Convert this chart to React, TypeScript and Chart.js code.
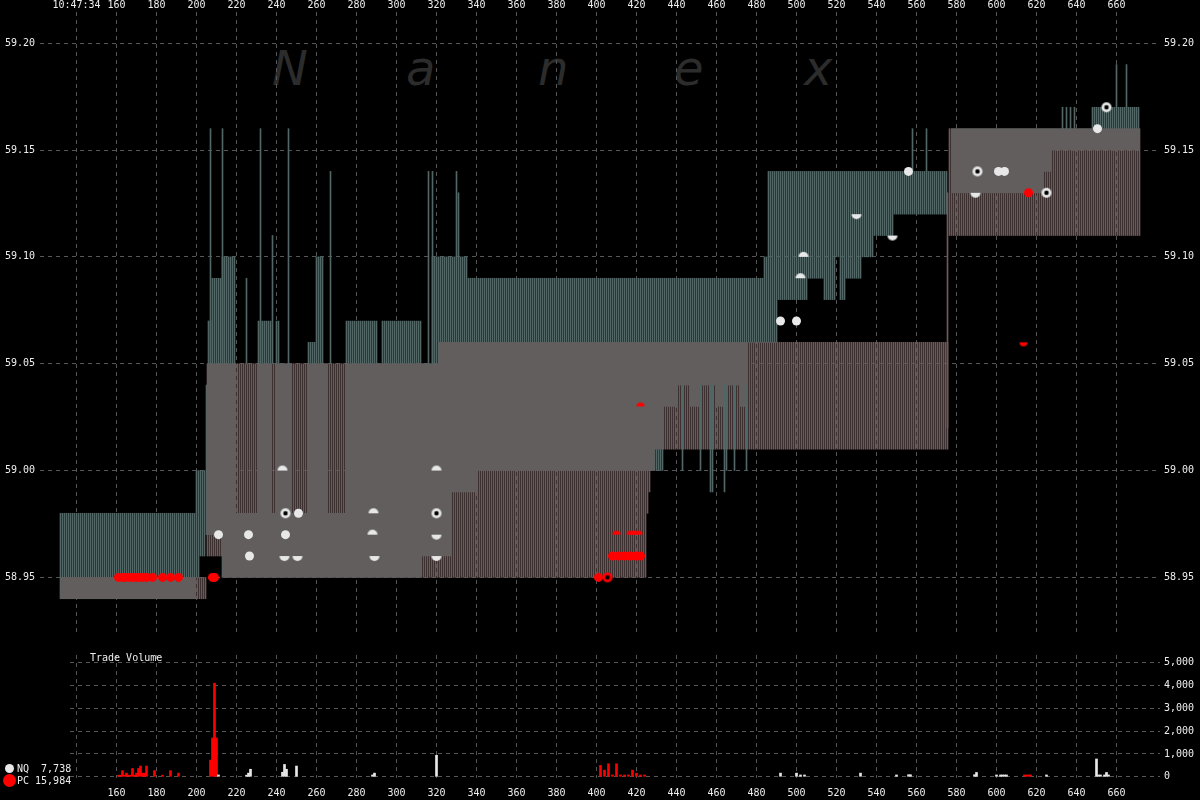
import React, { useEffect, useRef } from 'react';
import { Chart, registerables } from 'chart.js';

Chart.register(...registerables);

// ---------- axis labels ----------
const timeLabel = '10:47:34';
const xTickValues = [140, 160, 180, 200, 220, 240, 260, 280, 300, 320, 340, 360, 380, 400, 420, 440, 460, 480, 500, 520, 540, 560, 580, 600, 620, 640, 660];
const priceTicks = [58.95, 59.0, 59.05, 59.1, 59.15, 59.2];
const volumeTicks = [0, 1000, 2000, 3000, 4000, 5000];
const nqTotal = '7,738';
const pcTotal = '15,984';

// ---------- quote layers: [tStart, tEnd (exclusive), low, high] ----------
type Band = [number, number, number, number];
const slateBands: Band[] = [
  [132, 200, 58.94, 58.98],
  [200, 202, 58.95, 59.0],
  [202, 205, 58.96, 59.0],
  [205, 206, 58.97, 59.04],
  [206, 208, 58.97, 59.07],
  [208, 213, 58.97, 59.09],
  [213, 220, 58.95, 59.1],
  [220, 231, 58.95, 58.98],
  [231, 238, 58.95, 59.07],
  [238, 240, 58.95, 58.98],
  [240, 242, 58.95, 59.07],
  [242, 248, 58.95, 59.05],
  [248, 256, 58.95, 58.98],
  [256, 260, 58.95, 59.06],
  [260, 264, 58.95, 59.1],
  [264, 266, 58.95, 59.05],
  [266, 275, 58.95, 58.98],
  [275, 291, 58.95, 59.07],
  [291, 293, 58.95, 59.05],
  [293, 313, 58.95, 59.07],
  [313, 318, 58.96, 59.05],
  [318, 328, 58.96, 59.1],
  [328, 336, 58.99, 59.1],
  [336, 341, 58.99, 59.09],
  [341, 434, 59.0, 59.09],
  [434, 441, 59.03, 59.09],
  [441, 447, 59.04, 59.09],
  [447, 452, 59.03, 59.09],
  [452, 460, 59.04, 59.09],
  [460, 465, 59.03, 59.09],
  [465, 472, 59.04, 59.09],
  [472, 476, 59.03, 59.09],
  [476, 484, 59.06, 59.09],
  [484, 486, 59.06, 59.1],
  [486, 491, 59.06, 59.14],
  [491, 506, 59.08, 59.14],
  [506, 514, 59.09, 59.14],
  [514, 520, 59.08, 59.14],
  [520, 522, 59.1, 59.14],
  [522, 525, 59.08, 59.14],
  [525, 533, 59.09, 59.14],
  [533, 539, 59.1, 59.14],
  [539, 549, 59.11, 59.14],
  [549, 576, 59.12, 59.14],
  [578, 624, 59.13, 59.16],
  [624, 628, 59.14, 59.16],
  [628, 648, 59.15, 59.16],
  [648, 672, 59.15, 59.17],
];
const redBands: Band[] = [
  [132, 205, 58.94, 58.95],
  [205, 213, 58.96, 59.05],
  [213, 321, 58.95, 59.05],
  [321, 425, 58.95, 59.06],
  [425, 426, 58.98, 59.06],
  [426, 427, 58.99, 59.06],
  [427, 429, 59.0, 59.06],
  [429, 576, 59.01, 59.06],
  [576, 672, 59.11, 59.16],
];
// single quote lines: [t, low, high]
type Spike = [number, number, number];
const slateSpikes: Spike[] = [
  [207, 59.05, 59.16], [213, 59.05, 59.16], [225, 59.05, 59.09], [232, 59.05, 59.16],
  [238, 59.05, 59.11], [246, 59.05, 59.16], [267, 59.05, 59.14], [316, 59.05, 59.14],
  [318, 59.05, 59.14], [330, 59.1, 59.14], [331, 59.1, 59.13],
  [443, 59.0, 59.04], [452, 59.0, 59.04], [457, 58.99, 59.04], [458, 58.99, 59.04],
  [464, 58.99, 59.04], [465, 59.0, 59.04], [469, 59.0, 59.04], [475, 59.0, 59.04],
  [558, 59.14, 59.16], [565, 59.14, 59.16],
  [633, 59.16, 59.17], [635, 59.16, 59.17], [637, 59.16, 59.17], [639, 59.16, 59.17],
  [660, 59.17, 59.19], [665, 59.17, 59.19],
];
const redSpikes: Spike[] = [[575, 59.02, 59.13]];

// ---------- trades: [t, price] ----------
type Pt = [number, number];
const nqDiscs: Pt[] = [
  [211, 58.97], [226, 58.97], [244.5, 58.97], [226.5, 58.96], [251, 58.98],
  [492, 59.07], [500, 59.07], [556, 59.14], [601, 59.14], [604, 59.14], [650.5, 59.16],
];
const nqRings: Pt[] = [[244.5, 58.98], [320, 58.98], [590.5, 59.14], [625, 59.13], [655, 59.17]];
const nqDomes: Pt[] = [[243, 59.0], [320, 59.0], [288.5, 58.98], [288, 58.97], [502, 59.09], [503.5, 59.1]];
const nqBowls: Pt[] = [
  [244, 58.96], [250.5, 58.96], [289, 58.96], [320, 58.97], [320, 58.96],
  [530, 59.12], [548, 59.11], [589.5, 59.13],
];
const pcDiscs: Pt[] = [
  [161, 58.95], [163, 58.95], [164, 58.95], [166, 58.95], [168, 58.95], [170, 58.95],
  [171, 58.95], [173, 58.95], [175, 58.95], [178, 58.95], [183, 58.95], [187, 58.95],
  [191, 58.95], [208, 58.95], [209, 58.95], [401, 58.95],
  [408, 58.96], [411, 58.96], [414, 58.96], [417, 58.96], [420, 58.96], [422, 58.96],
  [616, 59.13],
];
const pcRings: Pt[] = [[405.5, 58.95]];
const pcDomes: Pt[] = [[410, 58.97], [417, 58.97], [419, 58.97], [421, 58.97], [422, 59.03]];
const pcBowls: Pt[] = [[613.5, 59.06]];

// ---------- trade volume: [t, shares] ----------
const pcVolume: Pt[] = [
  [161, 70], [162, 70], [163, 270], [164, 70], [165, 160], [166, 70], [167, 70], [168, 365],
  [169, 70], [170, 160], [171, 365], [172, 470], [173, 160], [174, 160], [175, 470],
  [179, 270], [183, 70], [187, 270], [191, 160],
  [207, 730], [208, 1700], [209, 4100], [210, 1700],
  [402, 500], [404, 290], [406, 570], [408, 80], [410, 570], [412, 80], [414, 80], [416, 80],
  [418, 290], [420, 160], [422, 80], [424, 80],
  [614, 80], [615, 80], [616, 80], [617, 80],
];
const nqVolume: Pt[] = [
  [211, 80], [225, 70], [226, 160], [227, 330], [243, 200], [244, 540], [245, 330], [250, 470],
  [288, 80], [289, 160], [320, 940], [492, 160], [500, 160], [502, 80], [504, 80], [532, 160],
  [550, 80], [556, 90], [557, 90], [589, 90], [590, 190], [600, 80], [602, 80], [603, 80],
  [604, 80], [605, 80], [625, 80], [650, 780], [651, 80], [652, 80], [654, 80], [655, 190], [656, 80],
];

// ---------- styles ----------
const SLATE = 'rgb(82,102,102)';
const BANDRED = 'rgb(112,88,88)';
const NQ_COLOR = '#e8e8e8';
const PC_COLOR = '#ff0000';
const GRID = '#555555';
const TEXT = '#eeeeee';
const MONO = '"DejaVu Sans Mono", monospace';

function expandBands(bands: Band[], shift: number) {
  const out: { x: number; y: [number, number] }[] = [];
  for (const [t0, t1, lo, hi] of bands) {
    for (let t = t0; t < t1; t++) out.push({ x: t + shift, y: [lo, hi] });
  }
  return out;
}
function spikeBars(spikes: Spike[], shift: number) {
  return spikes.map(([t, lo, hi]) => ({ x: t + shift, y: [lo, hi] as [number, number] }));
}
const toXY = (pts: Pt[]) => pts.map(([x, y]) => ({ x, y }));

function makeShape(kind: string, color: string, r: number): HTMLCanvasElement {
  const c = document.createElement('canvas');
  const s = 2 * r + 2;
  c.width = s;
  c.height = s;
  const ctx = c.getContext('2d')!;
  const m = s / 2;
  ctx.fillStyle = color;
  ctx.beginPath();
  if (kind === 'dome') {
    ctx.arc(m, m, r, Math.PI, 2 * Math.PI);
    ctx.closePath();
    ctx.fill();
  } else if (kind === 'bowl') {
    ctx.arc(m, m, r, 0, Math.PI);
    ctx.closePath();
    ctx.fill();
  } else {
    ctx.arc(m, m, r, 0, 2 * Math.PI);
    ctx.fill();
    ctx.fillStyle = '#000';
    ctx.beginPath();
    ctx.arc(m, m, r * 0.45, 0, 2 * Math.PI);
    ctx.fill();
  }
  return c;
}

// price scale range chosen so 59.20 sits at y=43.7 with 2174 px per dollar
const PRICE_MAX = 59.2146;
const PRICE_MIN = 58.9235;

export default function App() {
  const mainRef = useRef<HTMLCanvasElement>(null);
  const volRef = useRef<HTMLCanvasElement>(null);

  useEffect(() => {
    document.body.style.margin = '0';
    document.body.style.background = '#000';
    const font = { family: MONO, size: 10 };

    const nqRing = makeShape('ring', NQ_COLOR, 5);
    const nqDome = makeShape('dome', NQ_COLOR, 5);
    const nqBowl = makeShape('bowl', NQ_COLOR, 5);
    const pcRing = makeShape('ring', PC_COLOR, 5);
    const pcDome = makeShape('dome', PC_COLOR, 4);
    const pcBowl = makeShape('bowl', PC_COLOR, 4);

    const pointSet = (data: Pt[], style: any, color: string, radius = 5) => ({
      type: 'scatter' as const,
      data: toXY(data),
      pointStyle: style,
      pointRadius: radius,
      backgroundColor: color,
      borderWidth: 0,
      order: 0,
    });
    const barSet = (data: any[], color: string, order: number) => ({
      type: 'bar' as const,
      data,
      backgroundColor: color,
      barThickness: 1,
      grouped: false,
      borderWidth: 0,
      order,
    });

    const main = new Chart(mainRef.current!, {
      type: 'bar',
      data: {
        datasets: [
          pointSet(nqDiscs, 'circle', NQ_COLOR, 4.5) as any,
          pointSet(nqRings, nqRing, NQ_COLOR),
          pointSet(nqDomes, nqDome, NQ_COLOR),
          pointSet(nqBowls, nqBowl, NQ_COLOR),
          pointSet(pcDiscs, 'circle', PC_COLOR, 4.5),
          pointSet(pcRings, pcRing, PC_COLOR),
          pointSet(pcDomes, pcDome, PC_COLOR),
          pointSet(pcBowls, pcBowl, PC_COLOR),
          barSet(spikeBars(redSpikes, 0.5), BANDRED, 4),
          barSet(spikeBars(slateSpikes, 0), SLATE, 4),
          barSet(expandBands(redBands, 0.5), BANDRED, 5),
          barSet(expandBands(slateBands, 0), SLATE, 5),
        ],
      },
      options: {
        responsive: false,
        maintainAspectRatio: false,
        animation: false,
        events: [],
        layout: { padding: 0 },
        plugins: { legend: { display: false }, tooltip: { enabled: false } },
        scales: {
          x: {
            type: 'linear',
            position: 'top',
            min: 121.75,
            max: 681.75,
            offset: false,
            afterBuildTicks: (s: any) => {
              s.ticks = xTickValues.map((v) => ({ value: v }));
            },
            afterFit: (s: any) => {
              s.height = 12;
            },
            grid: { color: GRID, drawTicks: false, offset: false, lineWidth: 1 },
            border: { display: false, dash: [4, 4] },
            ticks: {
              color: TEXT,
              font,
              padding: 1,
              maxRotation: 0,
              autoSkip: false,
              callback: (v: any) => (v === 140 ? timeLabel : String(v)),
            },
          },
          y: {
            type: 'linear',
            position: 'left',
            min: PRICE_MIN,
            max: PRICE_MAX,
            afterBuildTicks: (s: any) => {
              s.ticks = priceTicks.map((v) => ({ value: v }));
            },
            afterFit: (s: any) => {
              s.width = 40;
            },
            grid: { color: GRID, drawTicks: false, lineWidth: 1 },
            border: { display: false, dash: [4, 4] },
            ticks: { color: TEXT, font, padding: 5, callback: (v: any) => Number(v).toFixed(2) },
          },
          y2: {
            type: 'linear',
            position: 'right',
            min: PRICE_MIN,
            max: PRICE_MAX,
            afterBuildTicks: (s: any) => {
              s.ticks = priceTicks.map((v) => ({ value: v }));
            },
            afterFit: (s: any) => {
              s.width = 40;
            },
            grid: { display: false, drawTicks: false },
            border: { display: false },
            ticks: { color: TEXT, font, padding: 4, callback: (v: any) => Number(v).toFixed(2) },
          },
        },
      } as any,
    });

    const vol = new Chart(volRef.current!, {
      type: 'bar',
      data: {
        datasets: [
          {
            label: 'NQ',
            data: toXY(nqVolume),
            backgroundColor: NQ_COLOR,
            barThickness: 2,
            grouped: false,
            borderWidth: 0,
          },
          {
            label: 'PC',
            data: toXY(pcVolume),
            backgroundColor: PC_COLOR,
            barThickness: 2,
            grouped: false,
            borderWidth: 0,
          },
        ],
      },
      options: {
        responsive: false,
        maintainAspectRatio: false,
        animation: false,
        events: [],
        layout: { padding: { left: 70, top: 0, right: 0, bottom: 0 } },
        plugins: { legend: { display: false }, tooltip: { enabled: false } },
        scales: {
          x: {
            type: 'linear',
            position: 'bottom',
            min: 136.75,
            max: 681.75,
            offset: false,
            afterBuildTicks: (s: any) => {
              s.ticks = xTickValues.map((v) => ({ value: v }));
            },
            afterFit: (s: any) => {
              s.height = 22;
            },
            grid: { color: GRID, drawTicks: false, offset: false, lineWidth: 1 },
            border: { display: false, dash: [4, 4] },
            ticks: {
              color: TEXT,
              font,
              padding: 9,
              maxRotation: 0,
              autoSkip: false,
              callback: (v: any) => (v === 140 ? '' : String(v)),
            },
          },
          y: {
            type: 'linear',
            position: 'right',
            min: -53,
            max: 5336,
            afterBuildTicks: (s: any) => {
              s.ticks = volumeTicks.map((v) => ({ value: v }));
            },
            afterFit: (s: any) => {
              s.width = 40;
            },
            grid: { color: GRID, drawTicks: false, lineWidth: 1 },
            border: { display: false, dash: [4, 4] },
            ticks: {
              color: TEXT,
              font,
              padding: 4,
              callback: (v: any) => Number(v).toLocaleString('en-US'),
            },
          },
        },
      } as any,
    });

    return () => {
      main.destroy();
      vol.destroy();
    };
  }, []);

  const mono: React.CSSProperties = {
    position: 'absolute',
    fontFamily: MONO,
    fontSize: 10,
    lineHeight: '12px',
    color: TEXT,
    whiteSpace: 'pre',
  };
  const wm: React.CSSProperties = {
    position: 'absolute',
    top: 44,
    fontFamily: '"DejaVu Sans", sans-serif',
    fontStyle: 'italic',
    fontSize: 48,
    lineHeight: '48px',
    color: '#2c2c2c',
  };

  return (
    <div style={{ position: 'relative', width: 1200, height: 800, background: '#000', overflow: 'hidden' }}>
      <span style={{ ...wm, left: 272 }}>N</span>
      <span style={{ ...wm, left: 406 }}>a</span>
      <span style={{ ...wm, left: 538 }}>n</span>
      <span style={{ ...wm, left: 674 }}>e</span>
      <span style={{ ...wm, left: 804 }}>x</span>
      <canvas ref={mainRef} width={1200} height={645} style={{ position: 'absolute', left: 0, top: 0 }} />
      <canvas ref={volRef} width={1200} height={155} style={{ position: 'absolute', left: 0, top: 645 }} />
      <div style={{ ...mono, left: 90, top: 652 }}>Trade Volume</div>
      <div style={{ position: 'absolute', left: 5, top: 764, width: 9, height: 9, borderRadius: '50%', background: NQ_COLOR }} />
      <div style={{ position: 'absolute', left: 3, top: 774, width: 13, height: 13, borderRadius: '50%', background: PC_COLOR }} />
      <div style={{ ...mono, left: 17, top: 763 }}>{'NQ  ' + nqTotal}</div>
      <div style={{ ...mono, left: 17, top: 775 }}>{'PC ' + pcTotal}</div>
    </div>
  );
}
